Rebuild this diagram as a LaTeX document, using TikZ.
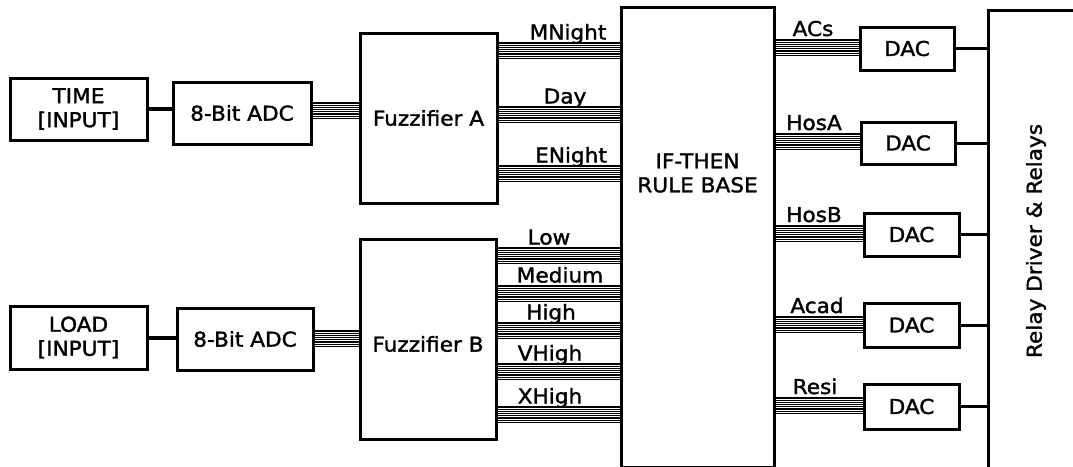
\documentclass[tikz,border=0pt]{standalone}
\usepackage{fontspec}
\setmainfont{DejaVu Sans}[FakeStretch=1.06, FakeBold=1.6]
% one multi-wire bus: eight thin parallel lines from node #1 to node #2, top line at y=#3
\newcommand\busrun[3]{%
  \foreach \k in {0,...,7}{%
    \draw[busline] (#1.east |- 0,#3+\k*2.2) -- (#2.west |- 0,#3+\k*2.2);}%
}
\begin{document}
\begin{tikzpicture}[x=1pt,y=-1pt,
  font=\fontsize{20.4}{24}\selectfont,
  box/.style={draw, line width=3pt, inner sep=0pt, align=center},
  link/.style={line width=4pt},
  wire/.style={line width=3pt},
  busline/.style={line width=1.1pt},
  lab/.style={anchor=base, inner sep=0pt}]
\useasboundingbox (0,0) rectangle (1073,466);

% inputs and converters
\node[box, minimum width=137, minimum height=62] (time) at (78.5,109) {TIME\\{[INPUT]}};
\node[box, minimum width=138, minimum height=62] (adc1) at (242,113) {8-Bit ADC};
\node[box, minimum width=137, minimum height=63] (load) at (78.5,337.5) {LOAD\\{[INPUT]}};
\node[box, minimum width=136, minimum height=62] (adc2) at (245,339) {8-Bit ADC};

% fuzzifiers
\node[box, minimum width=137, minimum height=170] (fuzA) at (428.5,118) {Fuzzifier A};
\node[box, minimum width=136, minimum height=200] (fuzB) at (428,339) {};
\node (fuzBtitle) at (428,344) {Fuzzifier B};

% rule base (runs past the lower edge), title set in its upper half
\node[box, minimum width=153, minimum height=460] (rule) at (697.5,237.5) {};
\node[align=center] (ruletitle) at (697.5,173) {IF-THEN\\RULE BASE};

% output converters
\node[box, minimum width=94, minimum height=43] (dac1) at (907,48.5) {DAC};
\node[box, minimum width=94, minimum height=42] (dac2) at (908,143) {DAC};
\node[box, minimum width=95, minimum height=43] (dac3) at (911.5,234.5) {DAC};
\node[box, minimum width=95, minimum height=44] (dac4) at (911.5,325) {DAC};
\node[box, minimum width=95, minimum height=45] (dac5) at (911.5,406.5) {DAC};

% relay stage (runs past the right and lower edges)
\node[box, rotate=90, minimum width=462, minimum height=96] (relay) at (1036,241) {Relay Driver \& Relays};

% input links
\draw[link] (time.east) -- (time.east -| adc1.west);
\draw[link] (load.east) -- (load.east -| adc2.west);

% converter to fuzzifier buses
\busrun{adc1}{fuzA}{103}
\busrun{adc2}{fuzB}{331}

% fuzzifier A outputs
\busrun{fuzA}{rule}{43}
\busrun{fuzA}{rule}{107}
\busrun{fuzA}{rule}{166}
\node[lab] (tMNight) at (568,39.5) {MNight};
\node[lab] (tDay) at (565,103.5) {Day};
\node[lab] (tENight) at (571,162.5) {ENight};

% fuzzifier B outputs
\busrun{fuzB}{rule}{248}
\busrun{fuzB}{rule}{286}
\busrun{fuzB}{rule}{323}
\busrun{fuzB}{rule}{364}
\busrun{fuzB}{rule}{407}
\node[lab] (tLow) at (549,244.5) {Low};
\node[lab] (tMedium) at (560,282.5) {Medium};
\node[lab] (tHigh) at (551,319.5) {High};
\node[lab] (tVHigh) at (550,360.5) {VHigh};
\node[lab] (tXHigh) at (550,403.5) {XHigh};

% rule base outputs
\busrun{rule}{dac1}{40}
\busrun{rule}{dac2}{134}
\busrun{rule}{dac3}{226}
\busrun{rule}{dac4}{317}
\busrun{rule}{dac5}{398}
\node[lab] (tACs) at (813,36) {ACs};
\node[lab] (tHosA) at (814,130) {HosA};
\node[lab] (tHosB) at (814,222) {HosB};
\node[lab] (tAcad) at (817,313) {Acad};
\node[lab] (tResi) at (815,394) {Resi};

% converter to relay wires
\foreach \d in {dac1,dac2,dac3,dac4,dac5}
  \draw[wire] (\d.east) -- (\d.east -| relay.north);
\end{tikzpicture}
\end{document}
